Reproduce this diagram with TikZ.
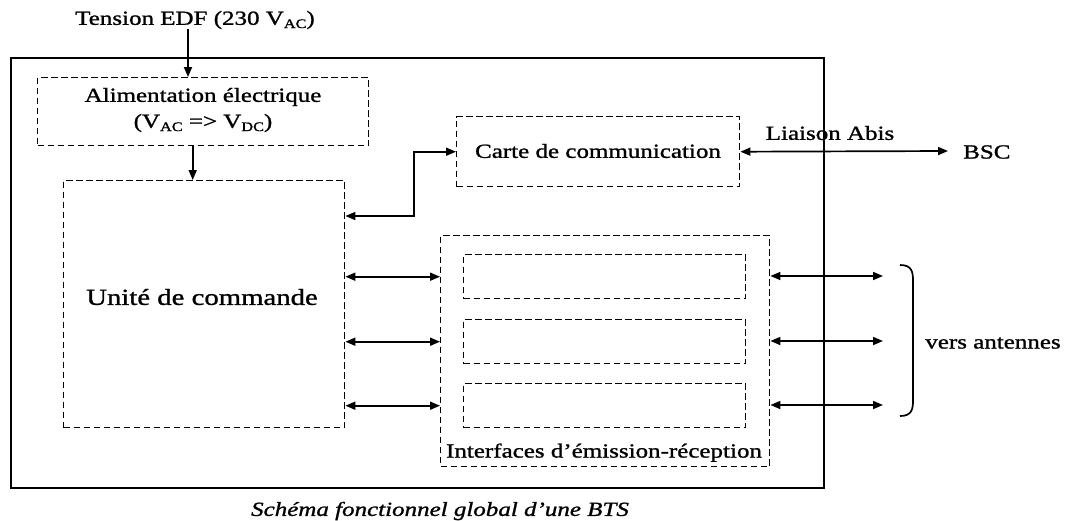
\documentclass[tikz,border=0pt]{standalone}
\usepackage{fontspec}
\setmainfont{Liberation Serif}[FakeStretch=1.25,FakeBold=1.2]
\usetikzlibrary{arrows.meta}
\newcommand{\vsub}[1]{\raisebox{-0.35ex}{\fontsize{13}{13}\selectfont #1}}
\begin{document}
\begin{tikzpicture}[x=1pt,y=-1pt,
  txt/.style={font=\fontsize{20}{26}\selectfont, inner sep=0pt, align=center},
  bigtxt/.style={font=\fontsize{23}{27}\selectfont, inner sep=0pt},
  capt/.style={font=\fontsize{20}{24}\selectfont\itshape, inner sep=0pt},
  dbox/.style={draw, line width=1.4pt, dash pattern=on 6.5pt off 3.5pt, inner sep=0pt, anchor=north west},
  obox/.style={draw, line width=1.8pt, inner sep=0pt, anchor=north west},
  arr/.style={line width=1.7pt, -{Triangle[length=10pt,width=8pt]}},
  darr/.style={line width=1.7pt, {Triangle[length=10pt,width=8pt]}-{Triangle[length=10pt,width=8pt]}},
  brace/.style={line width=1.7pt}]
\useasboundingbox (0,0) rectangle (1065,520);

% boxes
\node[obox, minimum width=813, minimum height=430] (outer) at (10,57) {};
\node[dbox, minimum width=331, minimum height=68] (alim) at (37,77) {};
\node[dbox, minimum width=281, minimum height=247] (unite) at (63,180) {};
\node[dbox, minimum width=283, minimum height=70] (carte) at (456,116) {};
\node[dbox, minimum width=329, minimum height=231] (inter) at (440,235) {};
\node[dbox, minimum width=282, minimum height=44] (ib1) at (463,254) {};
\node[dbox, minimum width=282, minimum height=44] (ib2) at (463,319) {};
\node[dbox, minimum width=282, minimum height=44] (ib3) at (463,383) {};

% texts
\node[txt] (tension) at (195,20) {Tension EDF (230 V\vsub{AC})};
\node[txt] (alimtxt) at (203,110) {Alimentation électrique\\(V\vsub{AC} => V\vsub{DC})};
\node[bigtxt] (unitetxt) at (202,297) {Unité de commande};
\node[txt] (cartetxt) at (598,151) {Carte de communication};
\node[txt, anchor=south] (intertxt) at (604,462) {Interfaces d’émission-réception};
\node[txt] (abis) at (830,133) {Liaison Abis};
\node[txt, anchor=west] (bsc) at (963,152) {BSC};
\node[txt] (antennes) at (993,343) {vers antennes};
\node[capt] (caption) at (440,511) {Schéma fonctionnel global d’une BTS};

% coordinates
\coordinate (k1) at (414,216);
\coordinate (bscend) at (948,151);
\coordinate (a1) at (883,276);
\coordinate (a2) at (883,341);
\coordinate (a3) at (883,405);

% connectors
\draw[arr] ([xshift=-7pt]tension.south) -- ([xshift=-7pt]tension.south |- alim.north);
\draw[arr] ([xshift=-10.5pt]alim.south) -- ([xshift=-10.5pt]alim.south |- unite.north);
\draw[darr] (unite.east |- k1) -- (k1) |- (carte.west);
\draw[darr] (carte.east) -- (bscend);
\draw[darr] (unite.east |- ib1) -- (inter.west |- ib1);
\draw[darr] (unite.east |- ib2) -- (inter.west |- ib2);
\draw[darr] (unite.east |- ib3) -- (inter.west |- ib3);
\draw[darr] (inter.east |- a1) -- (a1);
\draw[darr] (inter.east |- a2) -- (a2);
\draw[darr] (inter.east |- a3) -- (a3);

% brace
\draw[brace] (900,265) .. controls (912,265) and (913,272) .. (913,281) -- (913,400) .. controls (913,409) and (912,416) .. (900,416);
\end{tikzpicture}
\end{document}
